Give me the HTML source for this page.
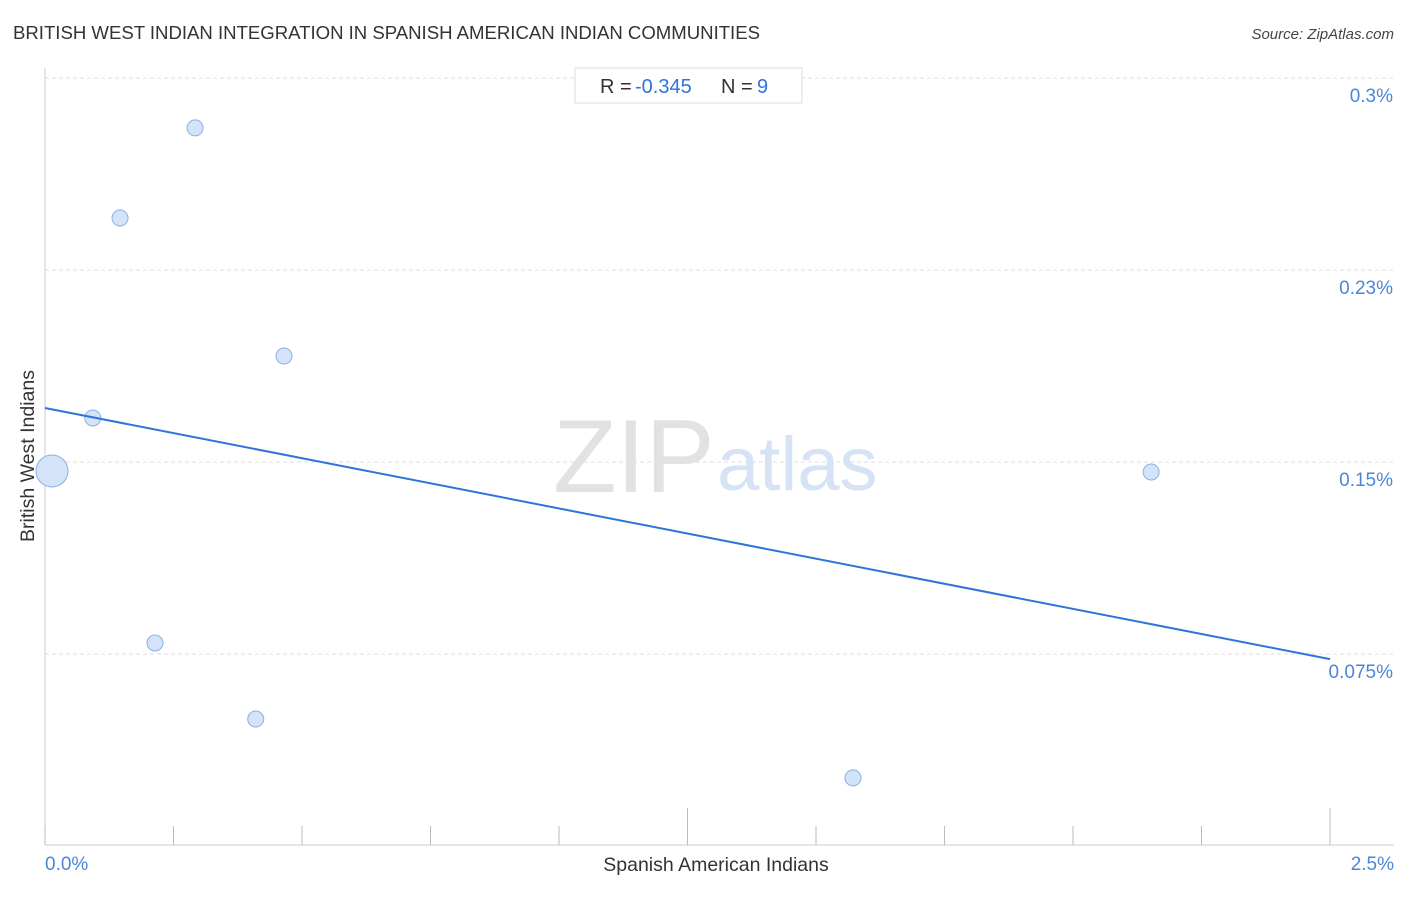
<!DOCTYPE html>
<html><head><meta charset="utf-8"><style>
body{margin:0;background:#fff;font-family:"Liberation Sans",sans-serif}
svg text{font-family:"Liberation Sans",sans-serif}
</style></head><body>
<svg width="1406" height="892" xmlns="http://www.w3.org/2000/svg">
<text x="13" y="39" font-size="18.6" fill="#333" textLength="747">BRITISH WEST INDIAN INTEGRATION IN SPANISH AMERICAN INDIAN COMMUNITIES</text>
<text x="1394" y="39" font-size="15" fill="#444" text-anchor="end" font-style="italic">Source: ZipAtlas.com</text>
<g id="grid"></g>
<text x="553" y="492" font-size="104" fill="#e2e2e2" font-family="Liberation Serif">ZIP</text>
<text x="717" y="490" font-size="76" fill="#d5e3f5">atlas</text>
<line x1="45" y1="68" x2="45" y2="845" stroke="#ccc"/>
<line x1="45" y1="845" x2="1394" y2="845" stroke="#ccc"/>
<g id="ticks"></g>
<g id="marks"></g>
<rect x="575" y="68" width="227" height="35" fill="#fff" stroke="#ddd"/>
<g font-size="20">
<text x="600" y="93" fill="#333">R =</text>
<text x="635" y="93" fill="#2f74d8">-0.345</text>
<text x="721" y="93" fill="#333">N =</text>
<text x="757" y="93" fill="#2f74d8">9</text>
</g>
<text x="45" y="870" font-size="19" fill="#4a86d8">0.0%</text>
<text x="1394" y="870" font-size="19" fill="#4a86d8" text-anchor="end">2.5%</text>
<text x="716" y="871" font-size="19.5" fill="#333" text-anchor="middle">Spanish American Indians</text>
<text transform="translate(34,456) rotate(-90)" font-size="19.5" fill="#333" text-anchor="middle">British West Indians</text>
</svg>
<script>
const xVals=[0.0136,0.093,0.146,0.292,0.214,0.41,0.465,1.572,2.152];
const yVals=[0.1465,0.1672,0.2453,0.2805,0.0793,0.0496,0.1914,0.0266,0.1461];
const sizes=[16,8,8,8,8,8,8,8,8];
const yTicks=[0.075,0.15,0.225,0.3];
const yTickLabels=["0.075%","0.15%","0.23%","0.3%"];
const trendStart=0.1711, trendEnd=0.073;
const X=v=>45+v/2.5*1285;
const Y=v=>654-(v-0.075)/0.075*192;
const NS="http://www.w3.org/2000/svg";
function mk(t,a,p){const e=document.createElementNS(NS,t);for(const k in a)e.setAttribute(k,a[k]);p.appendChild(e);return e;}
const grid=document.getElementById('grid');
yTicks.forEach((t,i)=>{
 const l=mk('line',{x1:45,x2:1394,y1:Y(t),y2:Y(t),stroke:'#ddd','stroke-dasharray':'4,3'},grid);
 
 
 const tx=mk('text',{x:1393,y:Y(t)+24,'font-size':19,fill:'#4a86d8','text-anchor':'end'},grid);
 tx.textContent=yTickLabels[i];
 
 
});
const ticks=document.getElementById('ticks');
for(let i=0;i<=10;i++){
 const v=i*0.25;
 const tk=mk('line',{x1:X(v),x2:X(v),y1:(i%5==0&&i>0)?808:826,y2:845,stroke:'#bbb'},ticks);
 
 
}
const marks=document.getElementById('marks');
xVals.forEach((x,i)=>{
 const c=mk('circle',{cx:X(x),cy:Y(yVals[i]),r:sizes[i],fill:'#d3e3f8',stroke:'#88b0e6','stroke-width':1},marks);
 
 
});
const tl=mk('line',{x1:X(0),y1:Y(trendStart),x2:X(2.5),y2:Y(trendEnd),stroke:'#2f74d8','stroke-width':2},marks);


</script>
</body></html>
